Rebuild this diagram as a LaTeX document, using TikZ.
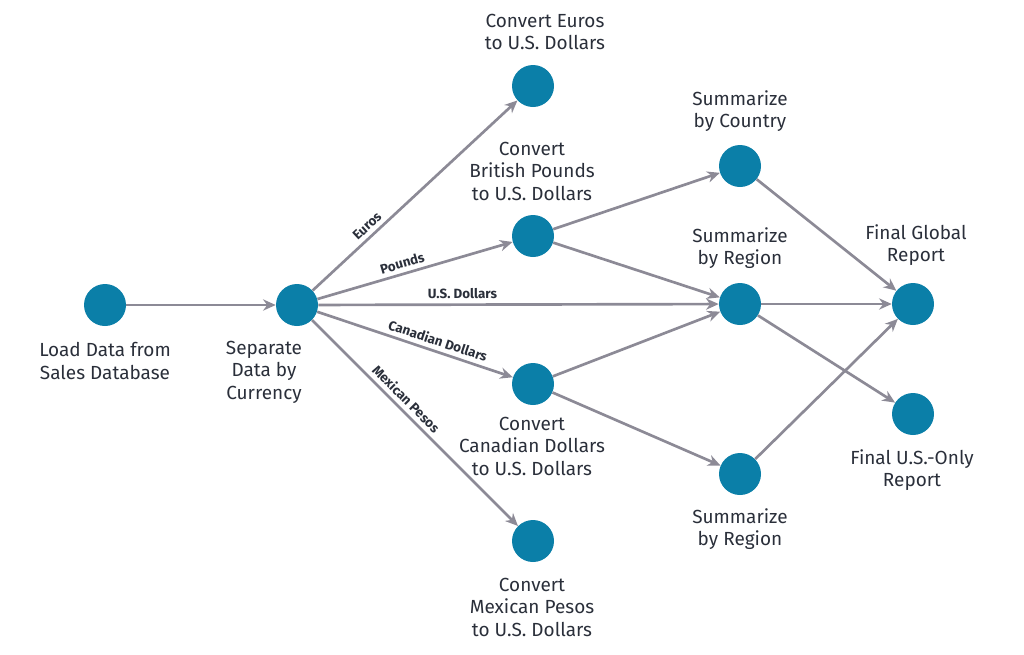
\documentclass[tikz,border=0pt]{standalone}
\usepackage{fontspec}
\setmainfont{Fira Sans}
\usetikzlibrary{arrows.meta}
\definecolor{nodeblue}{HTML}{0B7FA8}
\definecolor{edgegray}{HTML}{8C8A96}
\definecolor{txt}{HTML}{2A2F3A}
\begin{document}
\begin{tikzpicture}[x=0.025cm,y=-0.025cm,
  dot/.style={circle,fill=nodeblue,minimum size=42*0.025cm,inner sep=0pt},
  lab/.style={font=\fontsize{13.5}{16}\selectfont\color{txt},align=center},
  e/.style={draw=edgegray,line width=1.9pt,-{Stealth[length=9pt,width=8pt]}},
  el/.style={font=\fontsize{9.5}{11}\selectfont\bfseries\color{txt},sloped,above,inner sep=3pt}]
\useasboundingbox (0,0) rectangle (1024,654);
\node[dot] (A) at (105,305) {};
\node[dot] (B) at (297,305) {};
\node[dot] (C) at (533,86) {};
\node[dot] (D) at (533,236) {};
\node[dot] (E) at (533,384) {};
\node[dot] (F) at (533,541) {};
\node[dot] (G) at (740,166) {};
\node[dot] (H) at (740,304) {};
\node[dot] (I) at (740,474) {};
\node[dot] (J) at (913,304) {};
\node[dot] (K) at (913,414) {};
\node[lab] (tA) at (105,361) {Load Data from\\Sales Database};
\node[lab] (tB) at (264,372) {Separate\\Data by\\Currency};
\node[lab] (tC) at (545,32) {Convert Euros\\to U.S. Dollars};
\node[lab] (tD) at (532,171) {Convert\\British Pounds\\to U.S. Dollars};
\node[lab] (tE) at (532,446) {Convert\\Canadian Dollars\\to U.S. Dollars};
\node[lab] (tF) at (532,607) {Convert\\Mexican Pesos\\to U.S. Dollars};
\node[lab] (tG) at (740,111) {Summarize\\by Country};
\node[lab] (tH) at (740,248) {Summarize\\by Region};
\node[lab] (tI) at (740,529) {Summarize\\by Region};
\node[lab] (tJ) at (916,245) {Final Global\\Report};
\node[lab] (tK) at (912,470) {Final U.S.-Only\\Report};
\draw[e] (A) -- (B);
\draw[e] (B) -- node[el,pos=0.3] {Euros} (C);
\draw[e] (B) -- node[el,pos=0.45] {Pounds} (D);
\draw[e] (B) -- node[el,pos=0.36] {U.S. Dollars} (H);
\draw[e] (B) -- node[el,pos=0.6] {Canadian Dollars} (E);
\draw[e] (B) -- node[el,pos=0.42] {Mexican Pesos} (F);
\draw[e] (D) -- (G);
\draw[e] (D) -- (H);
\draw[e] (E) -- (H);
\draw[e] (E) -- (I);
\draw[e] (G) -- (J);
\draw[e] (H) -- (J);
\draw[e] (H) -- (K);
\draw[e] (I) -- (J);
\end{tikzpicture}
\end{document}
